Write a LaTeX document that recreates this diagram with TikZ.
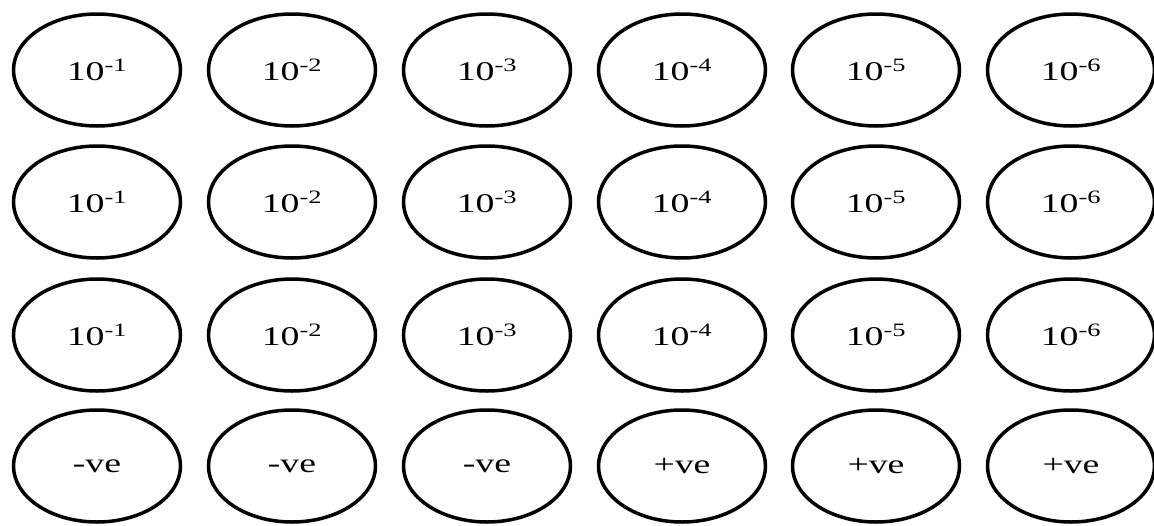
\documentclass[tikz,border=0pt]{standalone}
\usepackage{fontspec}
\setmainfont{Liberation Serif}
\newfontfamily\widefont[FakeStretch=1.4]{Liberation Serif}
\usetikzlibrary{shapes.geometric}
\begin{document}
\begin{tikzpicture}[x=1pt,y=-1pt,
  oval/.style={ellipse,draw=black,line width=3.5pt,minimum width=167pt,minimum height=112pt,inner sep=0pt,font=\widefont\fontsize{27}{32}\selectfont}]
\useasboundingbox (0,0) rectangle (1154,525);
\foreach \c [count=\i] in {97,292,487,682,876,1071}{
  \foreach \r [count=\j] in {70,202,335}{
    \node[oval] (e\j\i) at (\c,\r) {10\textsuperscript{-\i}};
  }
}
\node[oval] (s1) at (97,466) {-ve};
\node[oval] (s2) at (292,466) {-ve};
\node[oval] (s3) at (487,466) {-ve};
\node[oval] (s4) at (682,466) {+ve};
\node[oval] (s5) at (876,466) {+ve};
\node[oval] (s6) at (1071,466) {+ve};
\end{tikzpicture}
\end{document}
